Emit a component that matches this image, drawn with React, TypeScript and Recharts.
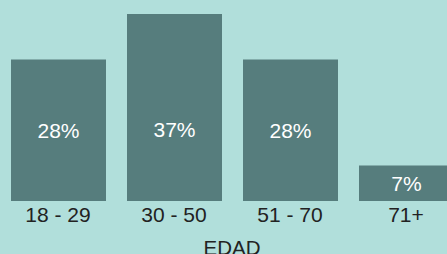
import React from 'react';
import { BarChart, Bar, XAxis, YAxis, LabelList, Label } from 'recharts';

const categories = ['18 - 29', '30 - 50', '51 - 70', '71+'];
const shares = [28, 37, 28, 7];

const data = categories.map((c, i) => ({ name: c, value: shares[i] }));

const FONT = '"Liberation Sans", Arial, Helvetica, sans-serif';

const BarValueLabel = (props: any) => {
  const { x, y, width, height, value } = props;
  const bottom = Number(y) + Number(height);
  const cy = bottom - Math.min(Number(height) / 2, 71.5);
  return (
    <text
      x={Number(x) + Number(width) / 2}
      y={cy}
      dy="0.355em"
      textAnchor="middle"
      fill="#ffffff"
      fontSize={21}
      fontFamily={FONT}
    >
      {`${value}%`}
    </text>
  );
};

export default function App() {
  return (
    <div
      style={{
        position: 'absolute',
        left: 0,
        top: 0,
        width: 447,
        height: 254,
        overflow: 'hidden',
        background: '#b1dfdb',
        fontFamily: FONT,
      }}
    >
      <BarChart
        width={464}
        height={254}
        data={data}
        margin={{ top: 14, right: 0, bottom: 0, left: 0 }}
      >
        <YAxis hide domain={[0, 37]} />
        <XAxis
          dataKey="name"
          axisLine={false}
          tickLine={false}
          height={53}
          interval={0}
          tickMargin={0.5}
          tick={{ fill: '#222', fontSize: 21, fontFamily: FONT }}
        >
          <Label
            value="EDAD"
            position="insideBottom"
            offset={-1}
            style={{ fill: '#222', fontSize: 20.5, fontFamily: FONT }}
          />
        </XAxis>
        <Bar dataKey="value" fill="#567d7d" barSize={95} isAnimationActive={false}>
          <LabelList dataKey="value" content={BarValueLabel} />
        </Bar>
      </BarChart>
    </div>
  );
}
